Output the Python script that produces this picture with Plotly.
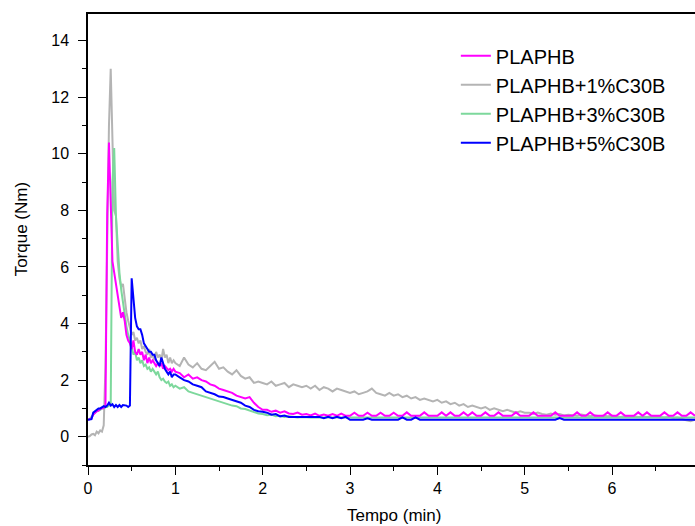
import plotly.graph_objects as go

# time grid (min): fine sampling 0-1 min, coarser after
TIME_EARLY = [round(i * 0.02, 2) for i in range(51)]
TIME_LATE = [round(1.05 + i * 0.05, 2) for i in range(119)]
TIME = TIME_EARLY + TIME_LATE

NAMES = ["PLAPHB", "PLAPHB+1%C30B", "PLAPHB+3%C30B", "PLAPHB+5%C30B"]
COLORS = ["#FF00FF", "#B4B4B4", "#7DD89C", "#0000FF"]

PLAPHB = [
    0.60, 0.62, 0.65, 0.78, 0.85, 0.90, 0.92, 0.98, 1.00, 1.02,
    1.10, 7.90, 10.4, 8.20, 6.20, 5.80, 5.40, 4.90, 4.60, 4.20,
    4.40, 4.10, 3.60, 3.40, 3.30, 3.10, 3.40, 3.00, 2.90, 3.10,
    2.90, 3.00, 2.70, 2.90, 2.60, 2.80, 2.60, 2.70, 2.60, 2.50,
    2.60, 2.50, 2.60, 2.40, 2.50, 2.40, 2.35, 2.40, 2.30, 2.40,
    2.30,
    2.25, 2.10, 2.20, 2.05, 2.10, 2.00, 1.95, 1.85, 1.80, 1.70,
    1.65, 1.60, 1.55, 1.45, 1.40, 1.35, 1.40, 1.20, 1.05, 0.95,
    0.95, 0.88, 0.92, 0.85, 0.90, 0.82, 0.80, 0.85, 0.78, 0.80,
    0.75, 0.82, 0.74, 0.78, 0.74, 0.80, 0.74, 0.82, 0.74, 0.74,
    0.85, 0.74, 0.74, 0.85, 0.74, 0.74, 0.85, 0.74, 0.74, 0.85,
    0.74, 0.74, 0.86, 0.74, 0.74, 0.74, 0.86, 0.74, 0.74, 0.74,
    0.86, 0.74, 0.86, 0.74, 0.74, 0.86, 0.74, 0.86, 0.74, 0.74,
    0.86, 0.74, 0.74, 0.86, 0.74, 0.74, 0.74, 0.86, 0.74, 0.74,
    0.74, 0.86, 0.74, 0.74, 0.74, 0.74, 0.86, 0.74, 0.74, 0.74,
    0.74, 0.86, 0.74, 0.74, 0.86, 0.74, 0.74, 0.74, 0.86, 0.74,
    0.74, 0.86, 0.74, 0.74, 0.74, 0.86, 0.74, 0.86, 0.74, 0.74,
    0.74, 0.86, 0.74, 0.74, 0.86, 0.74, 0.74, 0.86, 0.74,
]

C30B_1 = [
    0.00, 0.02, 0.08, 0.10, 0.05, 0.18, 0.12, 0.22, 0.18, 0.40,
    2.50, 7.50, 11.0, 13.0, 10.5, 8.00, 7.80, 6.20, 5.60, 5.30,
    5.40, 4.80, 4.40, 4.10, 3.80, 3.60, 3.70, 3.40, 3.50, 3.30,
    3.40, 3.10, 3.20, 3.00, 2.90, 3.10, 2.80, 2.90, 2.70, 3.00,
    2.80, 2.90, 2.70, 3.10, 2.80, 2.90, 2.60, 2.80, 2.60, 2.70,
    2.60,
    2.50, 2.80, 2.55, 2.45, 2.60, 2.40, 2.35, 2.50, 2.65, 2.40,
    2.45, 2.30, 2.20, 2.35, 2.15, 2.05, 2.10, 1.90, 1.95, 1.90,
    1.85, 1.95, 1.80, 1.85, 1.90, 1.75, 1.85, 1.80, 1.75, 1.80,
    1.70, 1.80, 1.65, 1.75, 1.70, 1.60, 1.70, 1.65, 1.60, 1.55,
    1.60, 1.50, 1.55, 1.60, 1.70, 1.55, 1.50, 1.45, 1.55, 1.45,
    1.50, 1.40, 1.45, 1.35, 1.40, 1.30, 1.35, 1.30, 1.25, 1.30,
    1.20, 1.25, 1.15, 1.20, 1.10, 1.15, 1.05, 1.10, 1.05, 1.00,
    1.05, 0.95, 1.00, 0.95, 0.90, 0.95, 0.90, 0.85, 0.90, 0.85,
    0.85, 0.80, 0.85, 0.80, 0.78, 0.82, 0.78, 0.80, 0.75, 0.78,
    0.76, 0.74, 0.78, 0.74, 0.72, 0.76, 0.72, 0.74, 0.72, 0.74,
    0.72, 0.70, 0.73, 0.70, 0.72, 0.70, 0.71, 0.70, 0.72, 0.70,
    0.70, 0.68, 0.70, 0.66, 0.68, 0.62, 0.58, 0.55, 0.60,
]

C30B_3 = [
    0.60, 0.62, 0.70, 0.80, 0.85, 0.90, 0.92, 0.95, 1.00, 1.00,
    1.05, 1.05, 1.10, 1.10, 9.00, 10.2, 7.80, 6.60, 5.80, 5.20,
    4.70, 4.30, 3.90, 3.60, 3.40, 3.20, 2.90, 3.00, 2.70, 2.80,
    2.60, 2.70, 2.50, 2.55, 2.40, 2.45, 2.30, 2.40, 2.30, 2.20,
    2.30, 2.10, 2.00, 2.05, 1.95, 1.90, 1.95, 1.80, 1.85, 1.75,
    1.80,
    1.70, 1.75, 1.60, 1.55, 1.50, 1.45, 1.40, 1.35, 1.30, 1.25,
    1.20, 1.15, 1.10, 1.08, 1.00, 0.98, 0.92, 0.88, 0.82, 0.80,
    0.76, 0.78, 0.72, 0.74, 0.70, 0.72, 0.70, 0.68, 0.70, 0.68,
    0.68, 0.68, 0.68, 0.68, 0.68, 0.68, 0.68, 0.68, 0.68, 0.68,
    0.68, 0.68, 0.68, 0.68, 0.68, 0.68, 0.68, 0.68, 0.68, 0.68,
    0.68, 0.68, 0.68, 0.68, 0.68, 0.68, 0.68, 0.68, 0.68, 0.68,
    0.68, 0.68, 0.68, 0.68, 0.68, 0.68, 0.68, 0.68, 0.68, 0.68,
    0.68, 0.68, 0.68, 0.68, 0.68, 0.68, 0.68, 0.68, 0.68, 0.68,
    0.68, 0.68, 0.68, 0.68, 0.68, 0.68, 0.68, 0.68, 0.68, 0.68,
    0.68, 0.68, 0.68, 0.68, 0.68, 0.68, 0.68, 0.68, 0.68, 0.68,
    0.68, 0.68, 0.68, 0.68, 0.68, 0.68, 0.68, 0.68, 0.68, 0.68,
    0.68, 0.68, 0.68, 0.68, 0.68, 0.68, 0.68, 0.68, 0.68,
]

C30B_5 = [
    0.60, 0.60, 0.62, 0.85, 0.90, 0.95, 1.00, 1.00, 1.05, 1.08,
    1.05, 1.10, 1.20, 1.10, 1.15, 1.05, 1.12, 1.05, 1.12, 1.05,
    1.12, 1.10, 1.10, 1.05, 1.10, 5.60, 4.90, 4.20, 3.90, 3.80,
    3.80, 3.60, 3.30, 3.20, 3.10, 3.00, 3.00, 2.90, 2.90, 2.70,
    2.60, 2.50, 2.80, 2.60, 2.40, 2.30, 2.20, 2.30, 2.10, 2.20,
    2.20,
    2.10, 2.00, 1.95, 1.85, 1.80, 1.75, 1.60, 1.55, 1.50, 1.42,
    1.40, 1.35, 1.30, 1.25, 1.20, 1.10, 1.05, 0.95, 0.90, 0.88,
    0.85, 0.78, 0.80, 0.72, 0.75, 0.70, 0.70, 0.70, 0.70, 0.70,
    0.70, 0.70, 0.70, 0.65, 0.70, 0.65, 0.70, 0.65, 0.70, 0.60,
    0.60, 0.60, 0.60, 0.65, 0.60, 0.60, 0.60, 0.60, 0.60, 0.60,
    0.60, 0.68, 0.60, 0.60, 0.68, 0.60, 0.60, 0.60, 0.60, 0.60,
    0.60, 0.60, 0.60, 0.60, 0.60, 0.60, 0.60, 0.60, 0.60, 0.60,
    0.60, 0.60, 0.60, 0.60, 0.60, 0.60, 0.60, 0.60, 0.60, 0.60,
    0.60, 0.60, 0.60, 0.60, 0.60, 0.60, 0.60, 0.66, 0.60, 0.60,
    0.60, 0.60, 0.60, 0.60, 0.60, 0.60, 0.60, 0.60, 0.60, 0.60,
    0.60, 0.60, 0.60, 0.60, 0.60, 0.60, 0.60, 0.60, 0.60, 0.60,
    0.60, 0.60, 0.60, 0.60, 0.60, 0.60, 0.60, 0.60, 0.60,
]

SERIES = [PLAPHB, C30B_1, C30B_3, C30B_5]
X_TICKS = [0, 1, 2, 3, 4, 5, 6]
Y_TICKS = [0, 2, 4, 6, 8, 10, 12, 14]
X_TITLE = "Tempo (min)"
Y_TITLE = "Torque (Nm)"

fig = go.Figure()
# draw order: grey, green, magenta, blue on top (legend order kept)
draw_order = [1, 2, 0, 3]
for i in draw_order:
    fig.add_trace(go.Scatter(
        x=TIME, y=SERIES[i], mode="lines", name=NAMES[i],
        line=dict(color=COLORS[i], width=2), legendrank=i + 1,
    ))

font = "Liberation Sans, Arial, sans-serif"
fig.update_layout(
    width=695, height=526,
    margin=dict(l=88, r=0, t=14, b=61),
    paper_bgcolor="white", plot_bgcolor="white",
    font=dict(family=font, color="black", size=16),
    showlegend=True,
    legend=dict(x=0.606, y=0.9505, xanchor="left", yanchor="top",
                bgcolor="rgba(0,0,0,0)", font=dict(size=20, color="black"),
                tracegroupgap=0),
    xaxis=dict(range=[0, 6.95], tickvals=X_TICKS, showgrid=False, zeroline=False,
               showline=True, linecolor="black", linewidth=1.5, mirror=True,
               ticks="outside", ticklen=8, tickwidth=1.3, tickcolor="black",
               minor=dict(dtick=0.5, ticks="outside", ticklen=4, tickcolor="black", tickwidth=1.2),
               tickfont=dict(size=16), ticklabelstandoff=0),
    yaxis=dict(range=[-1, 14.94], tickvals=Y_TICKS, showgrid=False, zeroline=False,
               showline=True, linecolor="black", linewidth=1.5,
               ticks="outside", ticklen=8, tickwidth=1.3, tickcolor="black",
               minor=dict(dtick=1, ticks="outside", ticklen=4, tickcolor="black", tickwidth=1.2),
               tickfont=dict(size=16), ticklabelstandoff=6),
    annotations=[
        dict(text=X_TITLE, xref="paper", yref="paper", x=0.504, y=-0.1109,
             showarrow=False, font=dict(size=17), xanchor="center", yanchor="middle"),
        dict(text=Y_TITLE, xref="paper", yref="paper", x=-0.110, y=0.523,
             showarrow=False, font=dict(size=17), textangle=-90,
             xanchor="center", yanchor="middle"),
    ],
)

fig.write_html("out.html")
